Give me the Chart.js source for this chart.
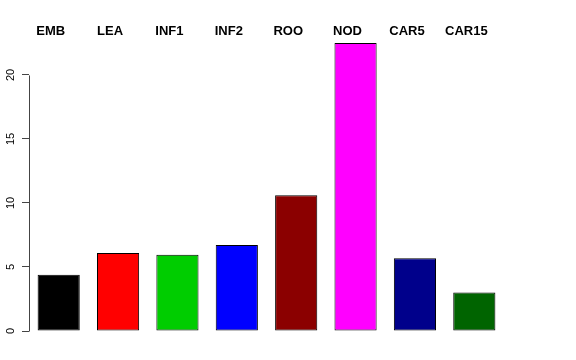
<!DOCTYPE html>
<html>
<head>
<meta charset="utf-8">
<script src="https://cdn.jsdelivr.net/npm/chart.js@4"></script>
<style>
  html, body { margin: 0; padding: 0; background: #fff; }
  #wrap { width: 576px; height: 360px; }
</style>
</head>
<body>
<div id="wrap"><canvas id="chart"></canvas></div>
<script>
const tissues = ['EMB', 'LEA', 'INF1', 'INF2', 'ROO', 'NOD', 'CAR5', 'CAR15'];
const values = [4.4, 6.1, 5.95, 6.72, 10.6, 22.5, 5.68, 3.0];
const barColors = ['#000000', '#FF0000', '#00CD00', '#0000FF', '#8B0000', '#FF00FF', '#00008B', '#006400'];
const yTicks = [0, 5, 10, 15, 20];

const FONT = '"Liberation Sans", Arial, Helvetica, sans-serif';
const AXIS_COLOR = '#444';

// R style axis: line only spans first..last tick, labels rotated
const rAxis = {
    id: 'rAxis',
    afterDraw(chart) {
        const y = chart.scales.y;
        const ctx = chart.ctx;
        const x = chart.chartArea.left;
        ctx.save();
        ctx.strokeStyle = AXIS_COLOR;
        ctx.lineWidth = 1;
        ctx.beginPath();
        ctx.moveTo(x + 0.5, y.getPixelForValue(yTicks[0]) + 0.5);
        ctx.lineTo(x + 0.5, y.getPixelForValue(yTicks[yTicks.length - 1]) + 0.5);
        ctx.stroke();

        ctx.fillStyle = '#000';
        ctx.font = '11px ' + FONT;
        ctx.textAlign = 'center';
        ctx.textBaseline = 'alphabetic';
        yTicks.forEach(v => {
            ctx.save();
            ctx.translate(13.5, y.getPixelForValue(v));
            ctx.rotate(-Math.PI / 2);
            ctx.fillText(String(v), 0, 0);
            ctx.restore();
        });
        ctx.restore();
    }
};

new Chart(document.getElementById('chart'), {
    type: 'bar',
    data: {
        labels: tissues,
        datasets: [{
            data: values,
            backgroundColor: barColors,
            borderColor: '#000',
            borderWidth: 1,
            borderSkipped: false,
            categoryPercentage: 1,
            barPercentage: 0.71
        }]
    },
    options: {
        responsive: true,
        maintainAspectRatio: false,
        animation: false,
        layout: { padding: { top: 0, right: 72, bottom: 29, left: 0 } },
        plugins: {
            legend: { display: false },
            tooltip: { enabled: false }
        },
        scales: {
            x: {
                position: 'top',
                grid: { display: false },
                border: { display: false },
                ticks: {
                    color: '#000',
                    font: { family: FONT, size: 13, weight: 'bold' },
                    labelOffset: -8,
                    padding: -7,
                    maxRotation: 0,
                    autoSkip: false
                },
                afterFit(scale) { scale.height = 40; }
            },
            y: {
                min: 0,
                max: 22.73,
                border: { display: false },
                grid: {
                    drawOnChartArea: false,
                    drawTicks: true,
                    tickLength: 7,
                    color: AXIS_COLOR
                },
                ticks: { display: false },
                afterBuildTicks(scale) {
                    scale.ticks = yTicks.map(v => ({ value: v }));
                },
                afterFit(scale) { scale.width = 29; }
            }
        }
    },
    plugins: [rAxis]
});
</script>
</body>
</html>
